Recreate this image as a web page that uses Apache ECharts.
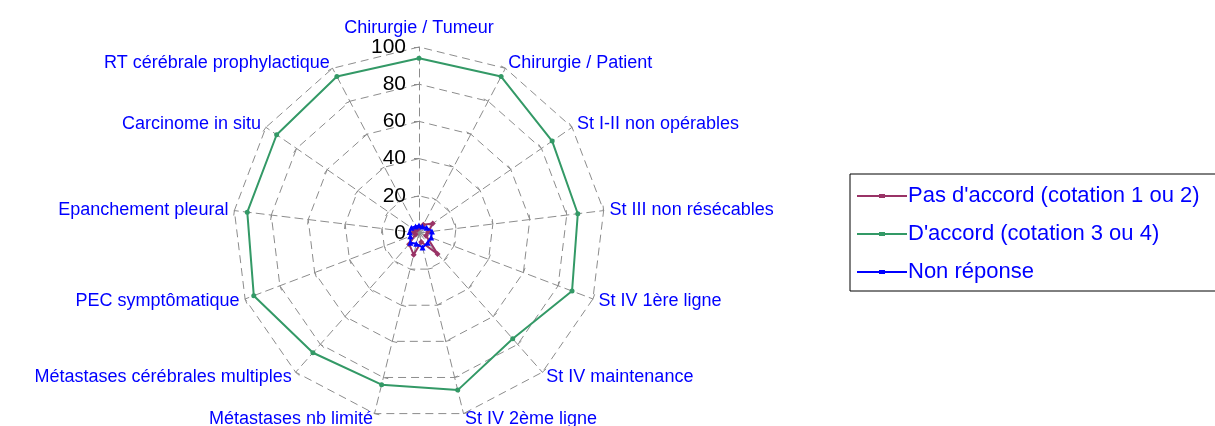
<!DOCTYPE html>
<html>
<head>
<meta charset="utf-8">
<script src="https://cdn.jsdelivr.net/npm/echarts@6/dist/echarts.min.js"></script>
<style>
  html, body { margin: 0; padding: 0; background: #fff; }
  #graphics { width: 1215px; height: 426px; }
</style>
</head>
<body>
<div id="graphics"></div>
<script>
// Axes of the radar, clockwise from the top
const categories = [
    "Chirurgie / Tumeur", "Chirurgie / Patient", "St I-II non opérables",
    "St III non résécables", "St IV 1ère ligne", "St IV maintenance",
    "St IV 2ème ligne", "Métastases nb limité", "Métastases cérébrales multiples",
    "PEC symptômatique", "Epanchement pleural", "Carcinome in situ",
    "RT cérébrale prophylactique"
];

const seriesNames = ["Pas d'accord (cotation 1 ou 2)", "D'accord (cotation 3 ou 4)", "Non réponse"];

// percent values, same order as categories
const pasAccord = [3, 5, 9, 5, 4, 15, 5, 12, 8, 2, 3, 3, 2];
const daccord = [94, 95, 87, 86, 88, 76, 87, 84, 86, 95, 93, 93, 95];
const nonReponse = [4, 4, 5, 7, 7, 7, 8, 6, 7, 5, 5, 5, 4];

const tickMax = 100;

// echarts lays the radar out counter-clockwise, so flip the order after the first axis
function clockwise(arr) {
    return [arr[0]].concat(arr.slice(1).reverse());
}

var myChart = echarts.init(document.getElementById('graphics'));

var blue = '#0000ff';
var grey = '#8c8c8c';

var indicators = clockwise(categories).map(function (name, i) {
    var ind = { name: name, max: tickMax, min: 0 };
    if (i === 0) {
        ind.axisLabel = { show: true };
    }
    return ind;
});

var option = {
    animation: false,
    textStyle: { fontFamily: 'Liberation Sans, Arial, sans-serif' },
    legend: {
        orient: 'vertical',
        left: 850,
        top: 174,
        padding: [11, 60, 8, 7],
        itemGap: 16,
        itemWidth: 50,
        itemHeight: 8,
        borderColor: '#000',
        borderWidth: 1,
        textStyle: { color: blue, fontSize: 22, padding: [0, 0, 0, -4] },
        data: seriesNames.map(function (n) {
            return { name: n, icon: 'path://M0,3 L22,3 L22,2 L28,2 L28,3 L50,3 L50,5 L28,5 L28,6 L22,6 L22,5 L0,5 Z' };
        })
    },
    radar: {
        center: [419, 233],
        radius: 186,
        startAngle: 90,
        shape: 'polygon',
        splitNumber: 5,
        nameGap: 6,
        axisName: { color: blue, fontSize: 18 },
        splitArea: { show: false },
        splitLine: { lineStyle: { color: grey, type: [8, 5], width: 1 } },
        axisLine: { lineStyle: { color: grey, type: [8, 5], width: 1 } },
        axisTick: { show: true, length: 5, lineStyle: { color: grey } },
        axisLabel: { show: false, color: '#000', fontSize: 21, margin: 13 },
        indicator: indicators
    },
    series: [{
        type: 'radar',
        data: [
            {
                name: seriesNames[1],
                value: clockwise(daccord),
                symbol: 'circle', symbolSize: 5,
                lineStyle: { color: '#339966', width: 2 },
                itemStyle: { color: '#339966' }
            },
            {
                name: seriesNames[0],
                value: clockwise(pasAccord),
                symbol: 'diamond', symbolSize: 6,
                lineStyle: { color: '#993366', width: 2 },
                itemStyle: { color: '#993366' }
            },
            {
                name: seriesNames[2],
                value: clockwise(nonReponse),
                symbol: 'triangle', symbolSize: 6,
                lineStyle: { color: blue, width: 2 },
                itemStyle: { color: blue }
            }
        ]
    }]
};

myChart.setOption(option);
</script>
</body>
</html>
